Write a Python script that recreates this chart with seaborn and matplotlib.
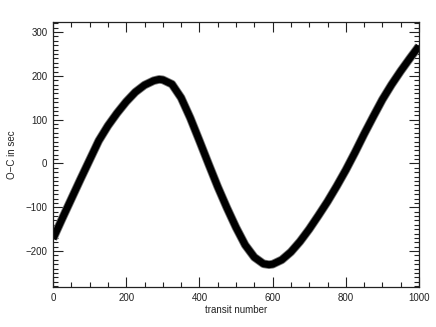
import matplotlib
matplotlib.use("Agg")
import matplotlib.pyplot as plt
from matplotlib.ticker import MultipleLocator
import seaborn as sns
import pandas as pd

# transit number / O-C values
transit = [0, 25, 50, 75, 100, 125, 150, 175, 200, 225, 250, 275, 290, 300,
           325, 350, 375, 400, 425, 450, 475, 500, 525, 550, 575, 590, 600,
           625, 650, 675, 700, 725, 750, 775, 800, 825, 850, 875, 900, 925,
           950, 975, 1000]
o_c = [-172, -126, -81, -36, 8, 52, 86, 115, 141, 163, 179, 189, 192, 191,
       181, 150, 104, 52, -1, -53, -101, -146, -186, -214, -229, -231, -230,
       -220, -202, -178, -150, -119, -87, -52, -15, 25, 67, 107, 146, 180,
       211, 240, 268]

df = pd.DataFrame({"transit number": transit, "O-C": o_c})

sns.set_theme(style="ticks")
plt.rcParams['font.family'] = ['Liberation Sans', 'DejaVu Sans']

fig = plt.figure(figsize=(4.36, 3.27), dpi=100)
ax = fig.add_axes([0.1216, 0.1223, 0.8394, 0.8104])

sns.lineplot(data=df, x="transit number", y="O-C", ax=ax, color="#777777",
             linewidth=6.2, solid_capstyle="butt", solid_joinstyle="round")
sns.lineplot(data=df, x="transit number", y="O-C", ax=ax, color="black",
             linewidth=5.0, solid_capstyle="butt", solid_joinstyle="round")

ax.set_xlim(0, 1000)
ax.set_ylim(-282, 323)
ax.xaxis.set_major_locator(MultipleLocator(200))
ax.xaxis.set_minor_locator(MultipleLocator(50))
ax.yaxis.set_major_locator(MultipleLocator(100))
ax.yaxis.set_minor_locator(MultipleLocator(10))
ax.tick_params(which="both", direction="in", top=True, right=True,
               color="#222222", width=0.8, labelsize=7, labelcolor="#222222", pad=4)
ax.tick_params(which="major", length=7)
ax.tick_params(which="minor", length=3.5)
for s in ax.spines.values():
    s.set_color("#222222")
    s.set_linewidth(0.9)

ax.set_xlabel("transit number", fontsize=7, color="#222222", labelpad=2)
ax.set_ylabel("O\u2212C in sec", fontsize=7, color="#222222", labelpad=6)

fig.savefig("out.png", dpi=100)
